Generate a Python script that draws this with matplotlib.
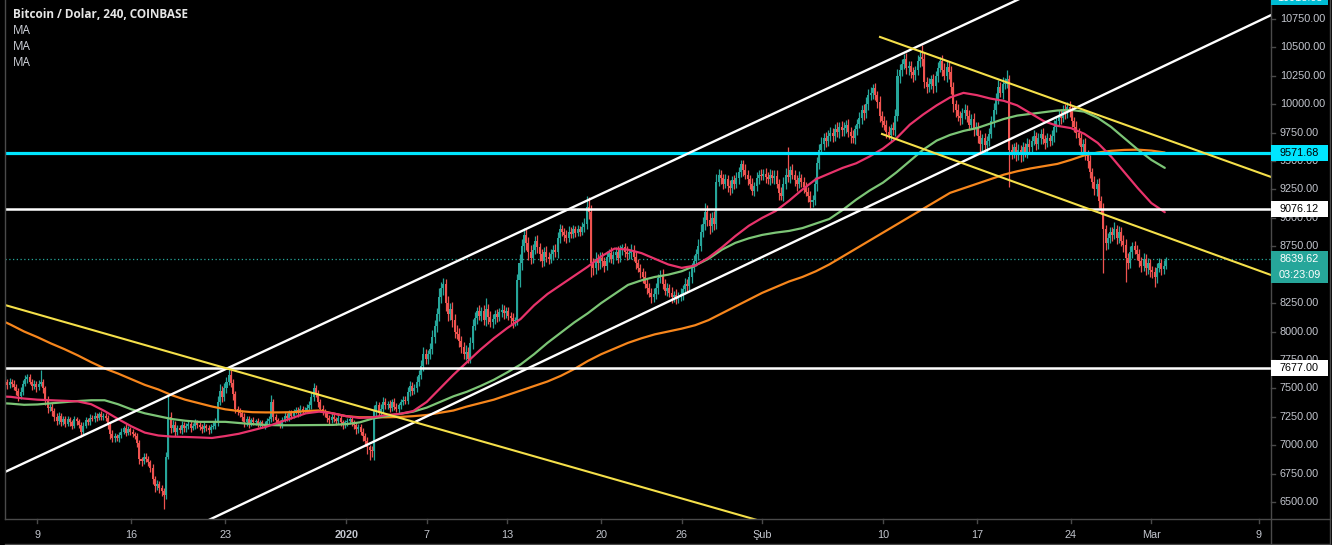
import numpy as np
import matplotlib
matplotlib.use("Agg")
import matplotlib.pyplot as plt
from matplotlib.patches import Rectangle
import matplotlib.transforms as mtransforms

# ---------------- DATA ----------------
# 4h closes, 6 per day, Dec 6 2019 ... Mar 1 2020, then first candle of Mar 2
first_open = 7430
closes = [
    [7450, 7480, 7520, 7560, 7530, 7560],  # Dec 6
    [7540, 7510, 7480, 7430, 7470, 7540],  # Dec 7
    [7580, 7600, 7560, 7520, 7540, 7510],  # Dec 8
    [7540, 7560, 7500, 7400, 7330, 7340],  # Dec 9
    [7300, 7250, 7210, 7260, 7200, 7230],  # Dec 10
    [7190, 7230, 7200, 7170, 7230, 7210],  # Dec 11
    [7180, 7120, 7170, 7220, 7200, 7240],  # Dec 12
    [7230, 7260, 7240, 7270, 7250, 7260],  # Dec 13
    [7240, 7180, 7100, 7060, 7080, 7060],  # Dec 14
    [7090, 7120, 7150, 7110, 7140, 7120],  # Dec 15
    [7100, 7080, 7020, 6880, 6860, 6900],  # Dec 16
    [6880, 6850, 6800, 6700, 6640, 6660],  # Dec 17
    [6620, 6600, 6560, 6900, 7250, 7150],  # Dec 18
    [7180, 7120, 7150, 7130, 7180, 7150],  # Dec 19
    [7170, 7190, 7150, 7170, 7200, 7180],  # Dec 20
    [7160, 7140, 7170, 7150, 7130, 7160],  # Dec 21
    [7170, 7200, 7380, 7480, 7420, 7500],  # Dec 22
    [7560, 7620, 7550, 7450, 7320, 7300],  # Dec 23
    [7280, 7250, 7200, 7230, 7190, 7220],  # Dec 24
    [7200, 7210, 7180, 7200, 7170, 7190],  # Dec 25
    [7210, 7230, 7380, 7250, 7220, 7200],  # Dec 26
    [7180, 7220, 7260, 7240, 7280, 7260],  # Dec 27
    [7290, 7310, 7280, 7320, 7300, 7310],  # Dec 28
    [7330, 7350, 7420, 7500, 7460, 7380],  # Dec 29
    [7320, 7290, 7280, 7240, 7220, 7250],  # Dec 30
    [7230, 7210, 7240, 7200, 7180, 7200],  # Dec 31
    [7210, 7230, 7200, 7180, 7140, 7160],  # Jan 1
    [7120, 7080, 7040, 6980, 6960, 6950],  # Jan 2
    [7300, 7350, 7280, 7320, 7380, 7350],  # Jan 3
    [7360, 7330, 7380, 7340, 7320, 7350],  # Jan 4
    [7380, 7400, 7390, 7470, 7520, 7480],  # Jan 5
    [7500, 7560, 7620, 7700, 7800, 7760],  # Jan 6
    [7800, 7850, 7950, 8050, 8150, 8300],  # Jan 7
    [8380, 8420, 8250, 8150, 8200, 8100],  # Jan 8
    [8000, 7980, 7920, 7860, 7800, 7820],  # Jan 9
    [7760, 7900, 8050, 8120, 8180, 8140],  # Jan 10
    [8180, 8100, 8200, 8130, 8080, 8110],  # Jan 11
    [8150, 8130, 8170, 8190, 8160, 8180],  # Jan 12
    [8140, 8120, 8090, 8100, 8450, 8600],  # Jan 13
    [8750, 8850, 8780, 8700, 8650, 8720],  # Jan 14
    [8800, 8740, 8680, 8620, 8700, 8660],  # Jan 15
    [8640, 8680, 8720, 8700, 8820, 8900],  # Jan 16
    [8880, 8850, 8820, 8880, 8860, 8900],  # Jan 17
    [8870, 8900, 8880, 8920, 8950, 9100],  # Jan 18
    [9050, 8600, 8560, 8640, 8600, 8650],  # Jan 19
    [8620, 8580, 8660, 8690, 8640, 8670],  # Jan 20
    [8700, 8650, 8720, 8740, 8700, 8680],  # Jan 21
    [8690, 8720, 8660, 8600, 8560, 8520],  # Jan 22
    [8480, 8420, 8380, 8340, 8300, 8330],  # Jan 23
    [8380, 8470, 8500, 8420, 8360, 8380],  # Jan 24
    [8340, 8300, 8320, 8290, 8310, 8330],  # Jan 25
    [8370, 8420, 8400, 8480, 8560, 8620],  # Jan 26
    [8680, 8750, 8880, 8950, 9050, 8980],  # Jan 27
    [8930, 9000, 8950, 9320, 9380, 9350],  # Jan 28
    [9300, 9340, 9280, 9260, 9330, 9300],  # Jan 29
    [9350, 9400, 9470, 9420, 9380, 9340],  # Jan 30
    [9300, 9240, 9280, 9350, 9380, 9370],  # Jan 31
    [9390, 9360, 9340, 9380, 9350, 9370],  # Feb 1
    [9300, 9220, 9190, 9300, 9380, 9360],  # Feb 2
    [9420, 9380, 9330, 9300, 9350, 9320],  # Feb 3
    [9270, 9230, 9190, 9140, 9160, 9300],  # Feb 4
    [9480, 9600, 9650, 9700, 9680, 9720],  # Feb 5
    [9750, 9720, 9780, 9760, 9800, 9770],  # Feb 6
    [9790, 9820, 9760, 9720, 9700, 9780],  # Feb 7
    [9830, 9880, 9950, 9920, 10000, 10080],  # Feb 8
    [10100, 10140, 10080, 10020, 9900, 9850],  # Feb 9
    [9820, 9760, 9730, 9790, 9770, 9900],  # Feb 10
    [10250, 10300, 10350, 10400, 10320, 10340],  # Feb 11
    [10280, 10260, 10300, 10380, 10420, 10400],  # Feb 12
    [10200, 10150, 10180, 10220, 10160, 10250],  # Feb 13
    [10320, 10380, 10300, 10250, 10330, 10280],  # Feb 14
    [10150, 10000, 9950, 9900, 9880, 9920],  # Feb 15
    [9950, 9900, 9820, 9870, 9780, 9800],  # Feb 16
    [9720, 9650, 9700, 9640, 9680, 9740],  # Feb 17
    [9850, 9950, 10050, 10150, 10100, 10180],  # Feb 18
    [10180, 10220, 9600, 9580, 9620, 9560],  # Feb 19
    [9600, 9550, 9620, 9580, 9650, 9620],  # Feb 20
    [9680, 9720, 9650, 9700, 9740, 9690],  # Feb 21
    [9660, 9700, 9680, 9720, 9800, 9850],  # Feb 22
    [9900, 9880, 9950, 9920, 9980, 9940],  # Feb 23
    [9850, 9800, 9750, 9700, 9620, 9650],  # Feb 24
    [9560, 9500, 9400, 9320, 9250, 9300],  # Feb 25
    [9150, 9080, 8900, 8780, 8820, 8880],  # Feb 26
    [8850, 8900, 8820, 8880, 8800, 8760],  # Feb 27
    [8650, 8600, 8700, 8750, 8720, 8680],  # Feb 28
    [8620, 8580, 8640, 8560, 8600, 8540],  # Feb 29
    [8520, 8480, 8560, 8600, 8550, 8580],  # Mar 1
    [8639.62],                             # Mar 2 (current)
]
# upper wick above max(open, close) per candle
wick_hi = [
    [30, 40, 25, 50, 20, 35], [20, 35, 30, 25, 40, 30], [35, 25, 30, 20, 30, 25],
    [30, 100, 25, 20, 30, 25], [30, 25, 35, 30, 20, 25], [25, 30, 20, 25, 30, 20],
    [20, 25, 30, 25, 20, 30], [25, 30, 20, 25, 30, 20], [20, 25, 20, 30, 25, 20],
    [25, 30, 20, 35, 25, 20], [25, 20, 30, 25, 20, 30], [30, 25, 20, 30, 25, 30],
    [25, 30, 20, 40, 190, 40], [40, 30, 25, 30, 35, 25], [25, 30, 20, 25, 30, 20],
    [20, 25, 30, 20, 25, 30], [30, 40, 50, 60, 40, 50], [40, 70, 40, 30, 30, 25],
    [30, 25, 30, 25, 30, 20], [25, 20, 25, 20, 25, 20], [25, 30, 60, 30, 25, 20],
    [25, 30, 35, 25, 30, 25], [25, 30, 25, 30, 25, 30], [30, 35, 50, 50, 30, 25],
    [25, 30, 25, 20, 25, 30], [25, 20, 30, 25, 20, 25], [25, 30, 20, 25, 20, 25],
    [25, 30, 25, 30, 25, 30], [50, 40, 30, 40, 40, 35], [30, 35, 30, 35, 30, 25],
    [30, 35, 30, 40, 45, 35], [40, 45, 40, 50, 60, 50], [40, 50, 60, 50, 60, 80],
    [60, 50, 40, 60, 50, 60], [50, 60, 50, 40, 50, 60], [40, 50, 60, 50, 40, 50],
    [40, 50, 95, 40, 50, 40], [40, 50, 40, 50, 40, 40], [40, 30, 40, 30, 60, 80],
    [60, 60, 50, 50, 60, 50], [40, 50, 40, 50, 40, 50], [40, 50, 40, 50, 60, 50],
    [40, 30, 40, 50, 40, 40], [30, 40, 30, 40, 50, 90], [80, 60, 50, 60, 40, 50],
    [50, 40, 50, 40, 50, 40], [40, 50, 40, 30, 40, 50], [40, 50, 40, 50, 40, 30],
    [40, 50, 40, 50, 40, 50], [50, 40, 40, 50, 40, 50], [40, 50, 40, 50, 40, 50],
    [40, 50, 40, 50, 40, 50], [50, 60, 70, 60, 80, 60], [60, 50, 60, 70, 50, 40],
    [40, 50, 40, 50, 40, 50], [50, 50, 40, 40, 50, 40], [40, 50, 40, 50, 40, 50],
    [40, 50, 40, 50, 40, 50], [50, 40, 50, 60, 60, 240], [40, 50, 40, 50, 60, 40],
    [40, 50, 40, 50, 40, 60], [60, 50, 60, 50, 60, 50], [50, 40, 50, 60, 40, 50],
    [50, 40, 50, 40, 50, 40], [40, 50, 40, 50, 60, 50], [50, 40, 50, 40, 50, 40],
    [50, 40, 50, 40, 50, 60], [60, 50, 50, 40, 50, 40], [40, 50, 40, 50, 60, 100],
    [50, 40, 50, 40, 50, 40], [50, 40, 50, 60, 50, 40], [60, 50, 40, 50, 40, 50],
    [50, 40, 50, 40, 50, 40], [40, 50, 40, 50, 40, 50], [50, 60, 50, 60, 50, 60],
    [50, 80, 40, 50, 40, 50], [50, 40, 50, 40, 50, 40], [40, 50, 40, 50, 40, 50],
    [40, 50, 40, 50, 60, 50], [50, 60, 40, 50, 40, 50], [50, 40, 50, 40, 50, 40],
    [50, 40, 50, 40, 50, 40], [50, 40, 50, 40, 50, 40], [40, 65, 40, 50, 40, 50],
    [50, 40, 50, 40, 50, 40], [50, 40, 50, 40, 50, 40], [40, 50, 40, 50, 40, 50],
    [20],
]
# lower wick below min(open, close) per candle
wick_lo = [
    [25, 30, 40, 20, 35, 25], [30, 25, 35, 45, 20, 30], [20, 30, 25, 35, 30, 40],
    [25, 20, 40, 50, 45, 30], [40, 35, 30, 20, 35, 25], [30, 20, 35, 25, 20, 30],
    [25, 50, 30, 20, 25, 20], [20, 25, 30, 20, 25, 30], [30, 40, 50, 35, 30, 25],
    [30, 25, 20, 30, 25, 30], [25, 30, 40, 50, 40, 30], [30, 35, 40, 45, 50, 35],
    [40, 50, 120, 30, 20, 40], [35, 40, 30, 25, 30, 35], [30, 25, 30, 20, 25, 30],
    [25, 30, 20, 25, 30, 20], [20, 25, 30, 30, 40, 30], [40, 30, 40, 50, 40, 35],
    [30, 35, 40, 30, 35, 25], [20, 25, 20, 25, 20, 25], [25, 20, 25, 35, 30, 25],
    [30, 25, 20, 30, 25, 30], [25, 20, 30, 25, 30, 20], [20, 25, 30, 30, 40, 45],
    [30, 25, 30, 35, 30, 25], [25, 30, 25, 30, 35, 25], [30, 25, 30, 35, 40, 30],
    [35, 40, 45, 60, 90, 50], [80, 40, 35, 30, 35, 30], [30, 35, 30, 35, 30, 35],
    [30, 25, 30, 30, 35, 40], [30, 35, 40, 40, 45, 50], [50, 40, 45, 50, 55, 60],
    [50, 60, 70, 60, 50, 60], [60, 50, 60, 50, 40, 50], [40, 40, 50, 40, 50, 40],
    [50, 40, 50, 60, 40, 50], [40, 50, 40, 40, 50, 40], [40, 50, 60, 40, 40, 60],
    [60, 50, 60, 70, 60, 50], [40, 50, 60, 50, 40, 50], [50, 40, 50, 40, 50, 40],
    [40, 50, 40, 30, 40, 40], [40, 30, 40, 30, 40, 50], [60, 120, 60, 50, 60, 50],
    [50, 60, 40, 50, 40, 50], [40, 50, 40, 50, 40, 50], [40, 50, 40, 50, 40, 50],
    [50, 40, 50, 40, 50, 40], [40, 50, 40, 50, 40, 50], [40, 50, 40, 50, 40, 40],
    [50, 40, 50, 40, 50, 40], [40, 50, 40, 50, 60, 50], [70, 50, 60, 50, 40, 50],
    [50, 40, 50, 60, 40, 50], [40, 50, 40, 50, 40, 50], [50, 40, 50, 40, 50, 40],
    [40, 50, 40, 50, 40, 50], [40, 60, 30, 40, 50, 40], [50, 40, 50, 60, 40, 50],
    [50, 40, 50, 50, 40, 50], [60, 50, 40, 50, 60, 50], [40, 50, 40, 50, 60, 50],
    [50, 40, 50, 60, 40, 50], [50, 40, 50, 60, 40, 50], [40, 50, 40, 50, 60, 50],
    [50, 60, 40, 50, 40, 50], [50, 60, 50, 40, 50, 60], [50, 60, 50, 40, 50, 60],
    [60, 50, 40, 50, 60, 50], [50, 40, 50, 40, 50, 60], [60, 70, 60, 50, 60, 50],
    [50, 60, 50, 40, 60, 50], [60, 70, 60, 50, 60, 50], [40, 50, 40, 50, 40, 50],
    [50, 40, 330, 60, 50, 60], [50, 60, 50, 40, 50, 40], [50, 40, 50, 40, 50, 40],
    [50, 40, 50, 40, 50, 40], [40, 50, 40, 50, 40, 50], [50, 40, 50, 60, 40, 50],
    [50, 60, 50, 60, 50, 60], [60, 50, 385, 60, 50, 40], [50, 40, 50, 40, 50, 60],
    [215, 50, 40, 50, 40, 50], [50, 60, 50, 60, 50, 60], [50, 90, 50, 40, 50, 40],
    [30],
]

# Moving averages, sampled daily at 00:00 from Dec 6 to Mar 2
ma_red = [7430, 7425, 7410, 7400, 7395, 7390, 7385, 7360, 7300, 7230, 7165, 7110,
          7085, 7075, 7072, 7068, 7063, 7080, 7100, 7130, 7160, 7200, 7240, 7280,
          7295, 7280, 7255, 7240, 7245, 7265, 7275, 7300, 7380, 7500, 7620, 7730,
          7840, 7940, 8030, 8110, 8230, 8330, 8410, 8490, 8570, 8660, 8730, 8720,
          8690, 8640, 8590, 8560, 8580, 8650, 8740, 8840, 8930, 9000, 9060, 9150,
          9250, 9340, 9390, 9440, 9480, 9540, 9610, 9700, 9820, 9910, 9990, 10060,
          10100, 10080, 10050, 10030, 9990, 9920, 9850, 9810, 9790, 9740, 9660,
          9540, 9400, 9260, 9130, 9050]
ma_green = [7372, 7365, 7355, 7358, 7368, 7378, 7388, 7395, 7395, 7360, 7315, 7280,
            7255, 7230, 7215, 7205, 7205, 7205, 7195, 7185, 7178, 7175, 7175, 7176,
            7177, 7178, 7185, 7200, 7235, 7255, 7275, 7295, 7330, 7380, 7430, 7470,
            7520, 7575, 7640, 7710, 7800, 7900, 7990, 8080, 8160, 8250, 8330, 8410,
            8450, 8480, 8500, 8530, 8580, 8640, 8720, 8780, 8820, 8850, 8870, 8885,
            8910, 8950, 8990, 9070, 9160, 9240, 9310, 9400, 9500, 9600, 9680, 9730,
            9765, 9790, 9830, 9870, 9900, 9915, 9930, 9945, 9950, 9935, 9880, 9800,
            9700, 9600, 9510, 9440]
ma_orange = [8115, 8060, 8000, 7950, 7895, 7845, 7790, 7730, 7675, 7630, 7580, 7530,
             7490, 7440, 7400, 7370, 7340, 7315, 7300, 7290, 7288, 7288, 7290, 7300,
             7305, 7280, 7255, 7245, 7245, 7245, 7248, 7255, 7265, 7285, 7305, 7340,
             7370, 7400, 7440, 7480, 7520, 7560, 7610, 7670, 7740, 7800, 7850, 7900,
             7940, 7975, 8000, 8025, 8055, 8100, 8160, 8220, 8280, 8340, 8390, 8440,
             8480, 8530, 8590, 8660, 8730, 8800, 8870, 8940, 9010, 9080, 9150, 9220,
             9260, 9300, 9340, 9380, 9410, 9435, 9455, 9475, 9510, 9550, 9575, 9590,
             9598, 9600, 9592, 9575]

# Drawn lines: (day offset from Dec 9 00:00, price) anchors
trend_white_1 = [(-2.42, 6764), (72.69, 10900)]
trend_white_2 = [(13.08, 6359), (91.47, 10759)]
trend_yellow_1 = [(-2.42, 8233), (53.09, 6359)]
trend_yellow_2 = [(62.78, 10592), (91.92, 9360)]   # ray starting at first anchor
trend_yellow_3 = [(62.93, 9738), (91.92, 8497)]    # ray starting at first anchor
hlines_cyan = [9571.68]
hlines_white = [9076.12, 7677.00]
last_price = 8639.62
countdown = "03:23:09"
top_badge = "10918.05"

price_ticks = [6500, 6750, 7000, 7250, 7500, 7750, 8000, 8250, 8750,
               9000, 9250, 9500, 9750, 10000, 10250, 10500, 10750]
date_ticks = [0, 7, 14, 23, 29, 35, 42, 48, 54, 63, 70, 77, 83, 91]
date_labels = ["9", "16", "23", "2020", "7", "13", "20", "26", "Şub",
               "10", "17", "24", "Mar", "9"]

# ---------------- STYLE ----------------
BG = "#000000"
UP = "#26a69a"
DN = "#ef5350"
AXC = "#c3c6ce"
GRID = "#4a4a4a"
FONT = "Liberation Sans"

W, H = 1332, 545
fig = plt.figure(figsize=(W / 100, H / 100), dpi=100, facecolor=BG)
L, R, B = 5, 1271, 519
ax = fig.add_axes([L / W, (H - B) / H, (R - L) / W, B / H])
ax.set_facecolor(BG)
x0 = (L - 37.5) / 13.42
x1 = (R - 37.5) / 13.42
ax.set_xlim(x0, x1)
ax.set_ylim(10750 - (B - 19) * 8.8, 10750 + 19 * 8.8)
for s in ax.spines.values():
    s.set_visible(False)
ax.set_xticks([])
ax.set_yticks([])

# ---- candles
t_list, o_list, c_list, h_list, l_list = [], [], [], [], []
prev = first_open
for d, (day_c, day_h, day_l) in enumerate(zip(closes, wick_hi, wick_lo)):
    for k, (c, wh, wl) in enumerate(zip(day_c, day_h, day_l)):
        t_list.append(d - 3 + (4 * k + 2) / 24)
        o_list.append(prev)
        c_list.append(c)
        h_list.append(max(prev, c) + wh)
        l_list.append(min(prev, c) - wl)
        prev = c
t = np.array(t_list); o = np.array(o_list); c = np.array(c_list)
h = np.array(h_list); lo = np.array(l_list)
up = c >= o
cols = np.where(up, UP, DN)
ax.vlines(t, lo, h, colors=cols, lw=0.9, zorder=3)
body_b = np.minimum(o, c)
body_h = np.maximum(np.abs(c - o), 9)
ax.bar(t, body_h, bottom=body_b, width=0.15, color=cols, linewidth=0, zorder=4)

# ---- moving averages
t_ma = np.arange(len(ma_red)) - 3
ax.plot(t_ma, ma_orange, color="#f7861c", lw=1.6, zorder=5, solid_capstyle="round")
ax.plot(t_ma, ma_green, color="#7cc576", lw=1.6, zorder=5, solid_capstyle="round")
ax.plot(t_ma, ma_red, color="#e8336b", lw=1.6, zorder=5, solid_capstyle="round")

# ---- horizontal levels
for yv in hlines_cyan:
    ax.axhline(yv, color="#00e5ff", lw=2.3, zorder=6)
for yv in hlines_white:
    ax.axhline(yv, color="white", lw=1.8, zorder=6)
ax.axhline(last_price, color=UP, lw=0.9, ls=(0, (1, 2)), zorder=2)

# ---- trend lines
def extended(p, q, ta, tb):
    (ta0, pa), (tb0, pb) = p, q
    s = (pb - pa) / (tb0 - ta0)
    return [ta, tb], [pa + s * (ta - ta0), pa + s * (tb - ta0)]

xx, yy = extended(*trend_white_1, x0 - 1, x1 + 1)
ax.plot(xx, yy, color="white", lw=1.7, zorder=7)
xx, yy = extended(*trend_white_2, x0 - 1, x1 + 1)
ax.plot(xx, yy, color="white", lw=1.7, zorder=7)
xx, yy = extended(*trend_yellow_1, x0 - 1, x1 + 1)
ax.plot(xx, yy, color="#f5e04a", lw=1.5, zorder=7)
xx, yy = extended(*trend_yellow_2, trend_yellow_2[0][0], x1 + 1)
ax.plot(xx, yy, color="#f5e04a", lw=1.5, zorder=7)
xx, yy = extended(*trend_yellow_3, trend_yellow_3[0][0], x1 + 1)
ax.plot(xx, yy, color="#f5e04a", lw=1.5, zorder=7)

# ---- overlay (pixel coordinates) for frame and labels
ov = fig.add_axes([0, 0, 1, 1], facecolor="none", zorder=10)
ov.set_xlim(0, W)
ov.set_ylim(H, 0)
ov.axis("off")
ov.plot([L, L], [0, B], color=GRID, lw=1)
ov.plot([L, 1330], [B, B], color=GRID, lw=1)
ov.plot([R, R], [0, H], color=GRID, lw=1)
ov.plot([1330, 1330], [0, H], color=GRID, lw=1)
ov.plot([L, 1330], [H - 1, H - 1], color=GRID, lw=1)

ytr = mtransforms.blended_transform_factory(ov.transData, ax.transData)
xtr = mtransforms.blended_transform_factory(ax.transData, ov.transData)

for p in price_ticks:
    ov.plot([R, R + 4], [p, p], color=GRID, lw=1, transform=ytr, zorder=11)
    ov.text(R + 9, p, f"{p:.2f}", transform=ytr, color=AXC, fontsize=7.8,
            family=FONT, va="center", ha="left", zorder=11)

for tv, lab in zip(date_ticks, date_labels):
    ov.plot([tv, tv], [B, B + 4], color=GRID, lw=1, transform=xtr, zorder=11)
    ov.text(tv, 535, lab, transform=xtr, color=AXC, fontsize=7.8,
            family=FONT, ha="center", va="center",
            fontweight="bold" if lab == "2020" else "normal", zorder=11)

def badge(price, text, fc, tc, dy_px=0):
    hp = 16 * 8.8
    ctr = price - dy_px * 8.8
    ov.add_patch(Rectangle((R, ctr - hp / 2), 57, hp, transform=ytr,
                           facecolor=fc, edgecolor="none", zorder=12))
    ov.text(R + 28.5, ctr, text, transform=ytr, color=tc, fontsize=7.8,
            family=FONT, ha="center", va="center", zorder=13)

badge(hlines_cyan[0], f"{hlines_cyan[0]:.2f}", "#00e5ff", "black")
badge(hlines_white[0], f"{hlines_white[0]:.2f}", "white", "black")
badge(hlines_white[1], f"{hlines_white[1]:.2f}", "white", "black")
badge(last_price, f"{last_price:.2f}", UP, "white")
badge(last_price, countdown, UP, "white", dy_px=16)
# partially visible badge at the top edge
ov.add_patch(Rectangle((R, -12), 57, 17, facecolor="#00bcd4", edgecolor="none", zorder=12))
ov.text(R + 28.5, -2, top_badge, color="white", fontsize=7.8, family=FONT,
        ha="center", va="center", zorder=13)

# legend
ov.text(13, 15, "Bitcoin / Dolar, 240, COINBASE", color="#e6e6e6", fontsize=8.5,
        family="Open Sans", fontweight="bold", va="center", ha="left", zorder=13)
for i in range(3):
    ov.text(13, 31 + i * 15.5, "MA", color="#d1d4dc", fontsize=8.5,
            family="Open Sans", va="center", ha="left", zorder=13)

fig.savefig("out.png", dpi=100, facecolor=BG)
